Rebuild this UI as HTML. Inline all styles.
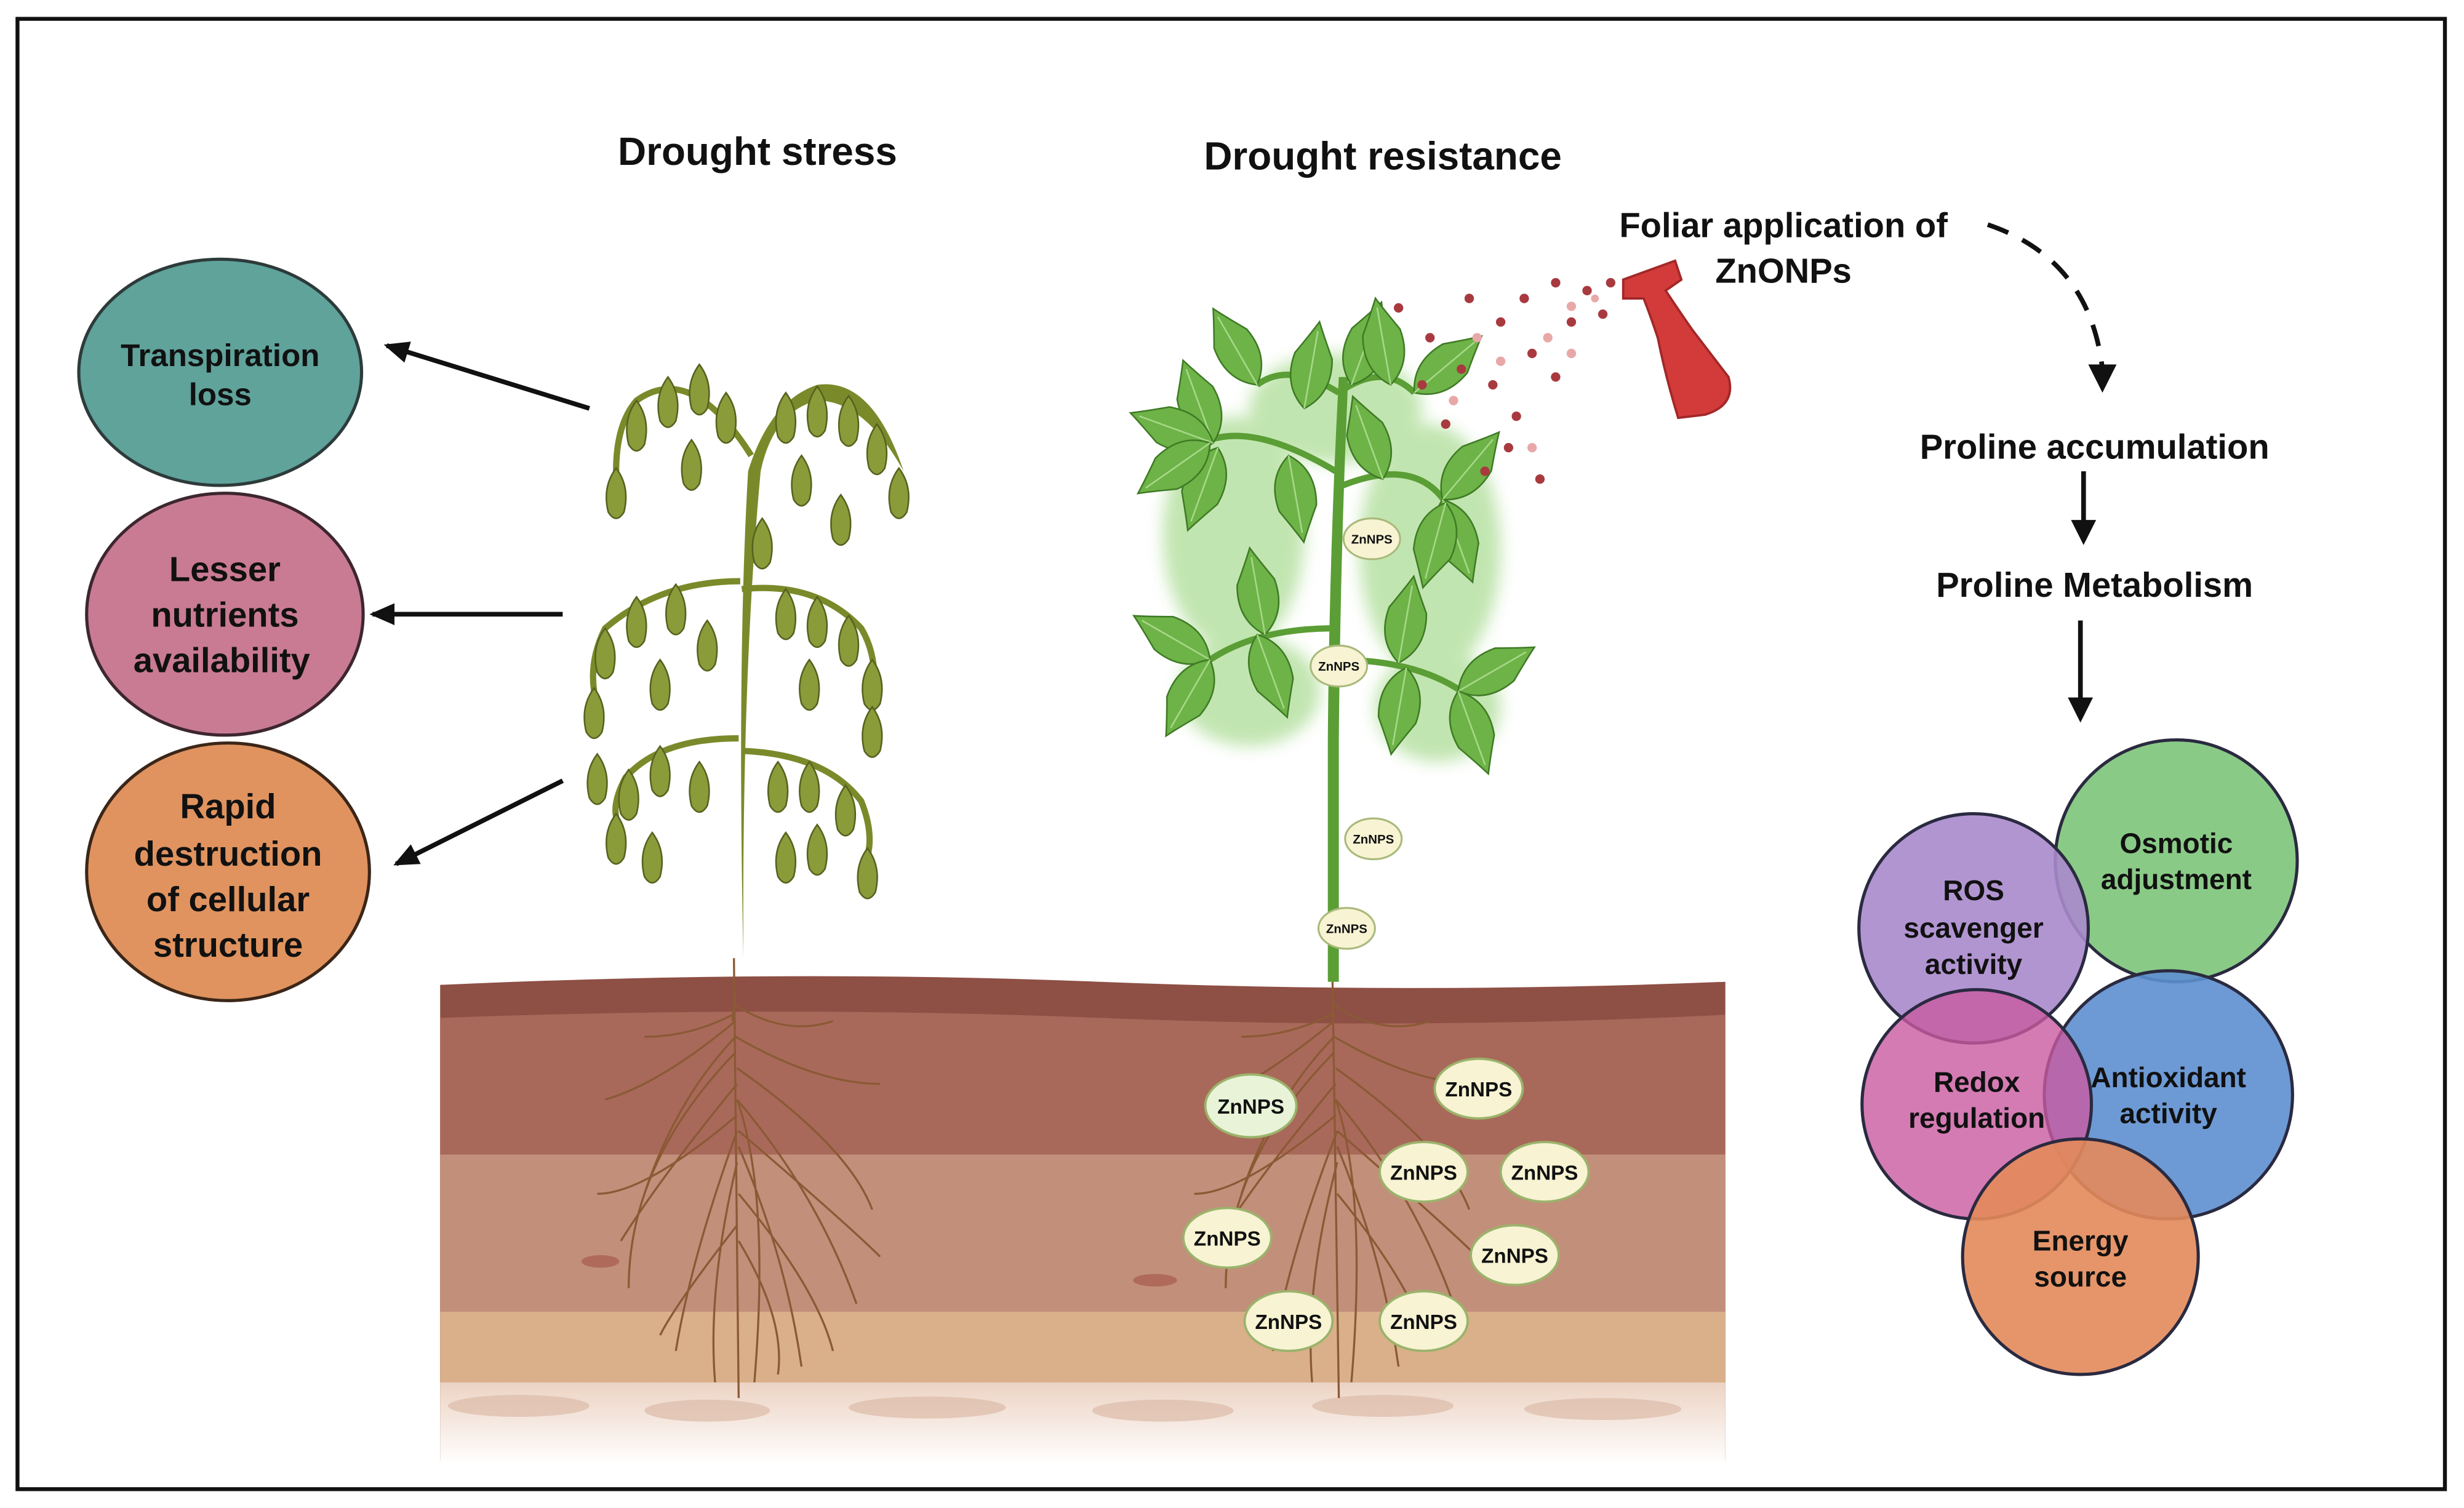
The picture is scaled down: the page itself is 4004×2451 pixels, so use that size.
<!DOCTYPE html>
<html><head><meta charset="utf-8"><style>
html,body{margin:0;padding:0;background:#fff;}
svg{display:block;}
text{font-family:"Liberation Sans",sans-serif;font-weight:bold;fill:#111;}
</style></head><body>
<svg width="4004" height="2451" viewBox="0 0 1568 960" xmlns="http://www.w3.org/2000/svg">
<defs>
<marker id="ah2" markerWidth="16" markerHeight="16" refX="14" refY="8" orient="auto" markerUnits="userSpaceOnUse"><path d="M0,1 L16,8 L0,15 z" fill="#111"/></marker>
<linearGradient id="fade" x1="0" y1="0" x2="0" y2="1"><stop offset="0" stop-color="#ecd3c3"/><stop offset="1" stop-color="#fff"/></linearGradient>
<filter id="glow"><feGaussianBlur stdDeviation="5"/></filter>
<g id="wl"><path d="M0,0 Q-9,12 -5,28 Q0,36 5,28 Q9,12 0,0 Z" fill="#8a9b3a" stroke="#55621e" stroke-width="1"/></g>
<g id="gl"><path d="M0,0 Q-16,-12 -12,-34 Q-4,-48 0,-56 Q4,-48 12,-34 Q16,-12 0,0 Z" fill="#6db347" stroke="#3f7a25" stroke-width="1"/><path d="M0,0 L0,-50" stroke="#a8d88a" stroke-width="1"/></g>
</defs>
<rect x="0" y="0" width="1568" height="960" fill="#fff"/>
<rect x="11" y="12" width="1545" height="936" fill="none" stroke="#111" stroke-width="2.5"/>

<text x="482" y="105" font-size="25" text-anchor="middle">Drought stress</text>
<text x="880" y="108" font-size="25" text-anchor="middle">Drought resistance</text>
<text x="1135" y="151" font-size="22" text-anchor="middle">Foliar application of</text>
<text x="1135" y="180" font-size="22" text-anchor="middle">ZnONPs</text>

<ellipse cx="140" cy="237" rx="90" ry="72" fill="#5fa39b" stroke="#2d3b3a" stroke-width="2"/>
<text x="140" y="233" font-size="20" text-anchor="middle">Transpiration</text>
<text x="140" y="258" font-size="20" text-anchor="middle">loss</text>
<ellipse cx="143" cy="391" rx="88" ry="77" fill="#c97b93" stroke="#3d2630" stroke-width="2"/>
<text x="143" y="370" font-size="22" text-anchor="middle">Lesser</text>
<text x="143" y="399" font-size="22" text-anchor="middle">nutrients</text>
<text x="141" y="428" font-size="22" text-anchor="middle">availability</text>
<ellipse cx="145" cy="555" rx="90" ry="82" fill="#e0935f" stroke="#3b2618" stroke-width="2"/>
<text x="145" y="521" font-size="22" text-anchor="middle">Rapid</text>
<text x="145" y="551" font-size="22" text-anchor="middle">destruction</text>
<text x="145" y="580" font-size="22" text-anchor="middle">of cellular</text>
<text x="145" y="609" font-size="22" text-anchor="middle">structure</text>

<g stroke="#111" stroke-width="3">
<line x1="375" y1="260" x2="246" y2="220" marker-end="url(#ah2)"/>
<line x1="358" y1="391" x2="237" y2="391" marker-end="url(#ah2)"/>
<line x1="358" y1="497" x2="252" y2="550" marker-end="url(#ah2)"/>
</g>

<!-- soil -->
<path d="M280,627 Q500,617 700,625 T1098,625 L1098,930 L280,930 Z" fill="#8e4f45"/>
<path d="M280,648 Q500,640 700,648 T1098,646 L1098,930 L280,930 Z" fill="#a9695a"/>
<rect x="280" y="735" width="818" height="100" fill="#c28f7b"/>
<rect x="280" y="835" width="818" height="45" fill="#d9b08a"/>
<rect x="280" y="880" width="818" height="52" fill="url(#fade)"/>
<g fill="#dfbfae" opacity="0.8">
<ellipse cx="330" cy="895" rx="45" ry="7"/><ellipse cx="450" cy="898" rx="40" ry="7"/><ellipse cx="590" cy="896" rx="50" ry="7"/><ellipse cx="740" cy="898" rx="45" ry="7"/><ellipse cx="880" cy="895" rx="45" ry="7"/><ellipse cx="1020" cy="897" rx="50" ry="7"/>
</g>
<ellipse cx="735" cy="815" rx="14" ry="4" fill="#b06a5a"/><ellipse cx="382" cy="803" rx="12" ry="4" fill="#b06a5a"/>

<!-- roots -->
<g stroke="#8a5a35" stroke-width="1.3" fill="none">
<path d="M467,610 L470,890 M468,630 L466,650"/>
<path d="M468,650 Q420,690 385,700 M468,660 Q520,690 560,690 M469,690 Q420,750 395,790 M469,700 Q520,760 545,830 M469,720 Q440,800 430,860 M470,730 Q500,800 510,870 M468,670 Q400,740 400,820 M469,680 Q540,730 555,770 M468,660 Q430,700 410,760 M469,700 Q490,760 480,880 M469,740 Q450,820 455,880 M470,760 Q520,820 530,860 M468,640 Q500,660 530,650 M468,645 Q440,660 410,660 M469,710 Q410,760 380,760 M470,720 Q540,780 560,800 M469,780 Q430,830 420,850 M470,790 Q500,840 495,875"/>
<path d="M848,625 L852,890"/>
<path d="M849,650 Q800,690 770,700 M849,660 Q900,690 940,690 M850,690 Q800,750 775,790 M850,700 Q900,760 925,830 M851,720 Q820,800 810,860 M851,730 Q880,800 890,870 M849,670 Q780,740 780,820 M850,680 Q920,730 935,770 M849,660 Q810,700 790,760 M850,700 Q870,760 860,880 M851,740 Q830,820 835,880 M851,760 Q900,820 910,860 M849,640 Q880,660 910,650 M849,645 Q820,660 790,660 M850,710 Q790,760 760,760 M851,720 Q920,780 940,800"/>
</g>

<!-- wilted plant -->
<g>
<path d="M462,610 L473,610 Q469,420 476,300 Q490,255 520,245 Q555,240 575,300 Q550,255 520,255 Q492,262 484,300 Q472,430 473,610 Z" fill="#7a8a2a"/>
<g stroke="#7a8a2a" stroke-width="4" fill="none">
<path d="M478,290 Q440,230 405,255 Q392,270 392,300"/>
<path d="M471,370 Q420,370 385,400 Q375,420 378,440"/>
<path d="M472,375 Q520,370 548,400 Q560,420 555,450"/>
<path d="M470,470 Q420,470 398,495 Q390,510 392,520"/>
<path d="M472,478 Q525,480 548,510 Q556,530 552,545"/>
</g>
<use href="#wl" x="392" y="298"/><use href="#wl" x="405" y="255"/><use href="#wl" x="425" y="240"/><use href="#wl" x="445" y="232"/><use href="#wl" x="462" y="250"/><use href="#wl" x="500" y="250"/><use href="#wl" x="520" y="246"/><use href="#wl" x="540" y="252"/><use href="#wl" x="558" y="270"/><use href="#wl" x="572" y="298"/><use href="#wl" x="440" y="280"/><use href="#wl" x="510" y="290"/><use href="#wl" x="535" y="315"/><use href="#wl" x="485" y="330"/>
<use href="#wl" x="378" y="438"/><use href="#wl" x="385" y="400"/><use href="#wl" x="405" y="380"/><use href="#wl" x="430" y="372"/><use href="#wl" x="450" y="395"/><use href="#wl" x="500" y="375"/><use href="#wl" x="520" y="380"/><use href="#wl" x="540" y="392"/><use href="#wl" x="555" y="420"/><use href="#wl" x="555" y="450"/><use href="#wl" x="420" y="420"/><use href="#wl" x="515" y="420"/>
<use href="#wl" x="380" y="480"/><use href="#wl" x="392" y="518"/><use href="#wl" x="400" y="490"/><use href="#wl" x="420" y="475"/><use href="#wl" x="445" y="485"/><use href="#wl" x="415" y="530"/><use href="#wl" x="495" y="485"/><use href="#wl" x="515" y="485"/><use href="#wl" x="538" y="500"/><use href="#wl" x="552" y="540"/><use href="#wl" x="520" y="525"/><use href="#wl" x="500" y="530"/>
</g>

<!-- healthy plant -->
<g>
<g fill="#8fd070" opacity="0.55" filter="url(#glow)">
<ellipse cx="785" cy="340" rx="45" ry="75"/><ellipse cx="910" cy="350" rx="45" ry="80"/><ellipse cx="850" cy="260" rx="55" ry="35"/><ellipse cx="795" cy="440" rx="45" ry="35"/><ellipse cx="915" cy="450" rx="40" ry="35"/>
</g>
<path d="M845,625 L852,625 L852,470 Q853,350 858,240 L852,240 Q846,350 845,470 Z" fill="#5a9e35"/>
<g stroke="#5a9e35" stroke-width="4" fill="none">
<path d="M850,300 Q800,270 770,280 M852,310 Q900,290 920,320 M849,400 Q800,400 770,420 M851,420 Q900,420 930,440 M852,250 Q880,230 900,250 M852,250 Q820,230 800,245"/>
</g>
<use href="#gl" transform="translate(772,282) rotate(-20)"/><use href="#gl" transform="translate(772,282) rotate(-70)"/><use href="#gl" transform="translate(775,285) rotate(200)"/><use href="#gl" transform="translate(770,282) rotate(235)"/>
<use href="#gl" transform="translate(800,245) rotate(-30)"/><use href="#gl" transform="translate(830,260) rotate(10)"/><use href="#gl" transform="translate(860,245) rotate(20)"/><use href="#gl" transform="translate(885,245) rotate(-10)"/><use href="#gl" transform="translate(900,250) rotate(50)"/>
<use href="#gl" transform="translate(918,318) rotate(40)"/><use href="#gl" transform="translate(918,318) rotate(160)"/><use href="#gl" transform="translate(920,320) rotate(195)"/><use href="#gl" transform="translate(880,305) rotate(-20)"/><use href="#gl" transform="translate(820,290) rotate(170)"/>
<use href="#gl" transform="translate(770,420) rotate(-60)"/><use href="#gl" transform="translate(770,420) rotate(210)"/><use href="#gl" transform="translate(800,404) rotate(160)"/><use href="#gl" transform="translate(805,404) rotate(-10)"/>
<use href="#gl" transform="translate(928,440) rotate(60)"/><use href="#gl" transform="translate(928,440) rotate(160)"/><use href="#gl" transform="translate(895,425) rotate(190)"/><use href="#gl" transform="translate(890,422) rotate(10)"/>
</g>

<!-- spray -->
<g fill="#a83a3f">
<circle cx="890" cy="196" r="3"/><circle cx="910" cy="215" r="3"/><circle cx="935" cy="190" r="3"/><circle cx="955" cy="205" r="3"/><circle cx="970" cy="190" r="3"/><circle cx="990" cy="180" r="3"/><circle cx="1010" cy="185" r="3"/><circle cx="1000" cy="205" r="3"/><circle cx="975" cy="225" r="3"/><circle cx="950" cy="245" r="3"/><circle cx="930" cy="235" r="3"/><circle cx="905" cy="245" r="3"/><circle cx="965" cy="265" r="3"/><circle cx="990" cy="240" r="3"/><circle cx="945" cy="300" r="3"/><circle cx="980" cy="305" r="3"/><circle cx="960" cy="285" r="3"/><circle cx="1020" cy="200" r="3"/><circle cx="1025" cy="180" r="3"/><circle cx="920" cy="270" r="3"/>
</g>
<g fill="#e8a8a8"><circle cx="1000" cy="195" r="3"/><circle cx="1015" cy="190" r="2.5"/><circle cx="985" cy="215" r="3"/><circle cx="940" cy="215" r="3"/><circle cx="925" cy="255" r="3"/><circle cx="1000" cy="225" r="3"/><circle cx="975" cy="285" r="3"/><circle cx="955" cy="230" r="3"/></g>
<path d="M1033,178 L1066,166 L1070,178 L1060,185 Q1070,200 1077,210 L1100,240 Q1105,258 1085,264 L1068,266 Q1060,240 1055,215 Q1050,200 1046,190 L1033,190 Z" fill="#d33b3b" stroke="#a32828" stroke-width="1.5"/>

<!-- ZnNPS small -->
<g fill="#f7f3d3" stroke="#a9b97a" stroke-width="1.2">
<ellipse cx="873" cy="343" rx="18" ry="13"/><ellipse cx="852" cy="424" rx="18" ry="13"/><ellipse cx="874" cy="534" rx="18" ry="13"/><ellipse cx="857" cy="591" rx="18" ry="13"/>
</g>
<g text-anchor="middle">
<text x="873" y="346" font-size="8">ZnNPS</text><text x="852" y="427" font-size="8">ZnNPS</text><text x="874" y="537" font-size="8">ZnNPS</text><text x="857" y="594" font-size="8">ZnNPS</text>
</g>
<g fill="#f7f3d3" stroke="#9bb36b" stroke-width="1.5">
<ellipse cx="796" cy="704" rx="29" ry="20" fill="#e9f3d8"/><ellipse cx="941" cy="693" rx="28" ry="19"/><ellipse cx="906" cy="746" rx="28" ry="19"/><ellipse cx="983" cy="746" rx="28" ry="19"/><ellipse cx="781" cy="788" rx="28" ry="19"/><ellipse cx="964" cy="799" rx="28" ry="19"/><ellipse cx="820" cy="841" rx="28" ry="19"/><ellipse cx="906" cy="841" rx="28" ry="19"/>
</g>
<g text-anchor="middle">
<text x="796" y="709" font-size="13">ZnNPS</text><text x="941" y="698" font-size="13">ZnNPS</text><text x="906" y="751" font-size="13">ZnNPS</text><text x="983" y="751" font-size="13">ZnNPS</text><text x="781" y="793" font-size="13">ZnNPS</text><text x="964" y="804" font-size="13">ZnNPS</text><text x="820" y="846" font-size="13">ZnNPS</text><text x="906" y="846" font-size="13">ZnNPS</text>
</g>

<!-- right flow -->
<path d="M1265,143 Q1330,165 1338,235" fill="none" stroke="#111" stroke-width="3" stroke-dasharray="14,10"/>
<path d="M1329,232 L1347,232 L1338,250 Z" fill="#111"/>
<text x="1333" y="292" font-size="22" text-anchor="middle">Proline accumulation</text>
<line x1="1326" y1="300" x2="1326" y2="333" stroke="#111" stroke-width="3"/>
<path d="M1318,331 L1334,331 L1326,347 Z" fill="#111"/>
<text x="1333" y="380" font-size="22" text-anchor="middle">Proline Metabolism</text>
<line x1="1324" y1="395" x2="1324" y2="446" stroke="#111" stroke-width="3"/>
<path d="M1316,444 L1332,444 L1324,460 Z" fill="#111"/>

<g stroke="#2a2a40" stroke-width="2">
<circle cx="1385" cy="548" r="77" fill="#7dc47a" fill-opacity="0.9"/>
<circle cx="1256" cy="591" r="73" fill="#a889cc" fill-opacity="0.9"/>
<circle cx="1380" cy="697" r="79" fill="#5d8fd0" fill-opacity="0.9"/>
<circle cx="1258" cy="703" r="73" fill="#c95aa0" fill-opacity="0.8"/>
<circle cx="1324" cy="800" r="75" fill="#e38a5a" fill-opacity="0.9"/>
</g>
<g font-size="18" text-anchor="middle">
<text x="1385" y="543">Osmotic</text><text x="1385" y="566">adjustment</text>
<text x="1256" y="573">ROS</text><text x="1256" y="597">scavenger</text><text x="1256" y="620">activity</text>
<text x="1380" y="692">Antioxidant</text><text x="1380" y="715">activity</text>
<text x="1258" y="695">Redox</text><text x="1258" y="718">regulation</text>
<text x="1324" y="796">Energy</text><text x="1324" y="819">source</text>
</g>
</svg>
</body></html>
